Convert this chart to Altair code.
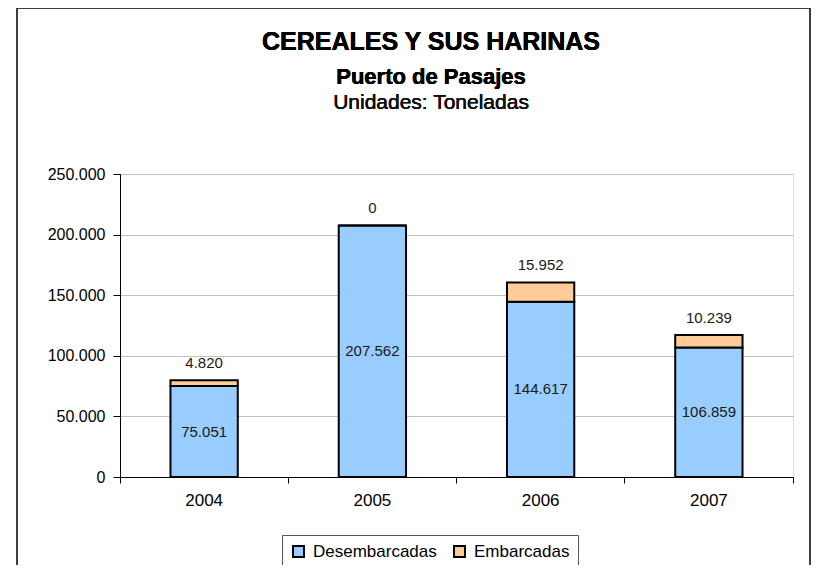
import altair as alt
import pandas as pd

years = ["2004", "2005", "2006", "2007"]
desembarcadas = [75051, 207562, 144617, 106859]
embarcadas = [4820, 0, 15952, 10239]
series = ["Desembarcadas", "Embarcadas"]
colors = ["#99CCFF", "#FFCC99"]

rows = []
for i, y in enumerate(years):
    rows.append({"year": y, "serie": series[0], "value": desembarcadas[i], "ord": 0})
    rows.append({"year": y, "serie": series[1], "value": embarcadas[i], "ord": 1})
df = pd.DataFrame(rows)

lab = pd.DataFrame({"year": years, "des": desembarcadas, "emb": embarcadas})

FONT = "Liberation Sans"
W, H = 673, 303

xenc = alt.X("year:N", title=None,
             scale=alt.Scale(paddingInner=0, paddingOuter=0),
             axis=alt.Axis(labelAngle=0, bandPosition=1, tickExtra=True, tickSize=6,
                           tickColor="black", domainColor="black", labelColor="black",
                           labelFont=FONT, labelFontSize=17, labelPadding=9, grid=False))

bars = alt.Chart(df).mark_bar(width={"band": 0.4}, stroke="black", strokeWidth=2).encode(
    x=xenc,
    y=alt.Y("sum(value):Q", title=None, stack="zero",
            scale=alt.Scale(domain=[0, 250000], nice=False),
            axis=alt.Axis(values=[0, 50000, 100000, 150000, 200000, 250000],
                          labelExpr="replace(format(datum.value, ','), ',', '.')",
                          tickSize=7, tickColor="black", domainColor="black",
                          labelColor="black", labelFont=FONT, labelFontSize=16,
                          labelPadding=8, gridColor="#c0c0c0", gridWidth=1)),
    color=alt.Color("serie:N", scale=alt.Scale(domain=series, range=colors),
                    legend=alt.Legend(title=None, orient="none", legendX=162, legendY=361,
                                      direction="horizontal", symbolType="square",
                                      symbolStrokeColor="black", symbolStrokeWidth=2,
                                      symbolSize=120, labelFont=FONT, labelFontSize=17,
                                      labelColor="black", strokeColor="#555555",
                                      padding=8, columnPadding=13, labelOffset=6)),
    order=alt.Order("ord:Q"),
)

inner = alt.Chart(lab).transform_calculate(
    mid="datum.des / 2",
    txt="replace(format(datum.des, ','), ',', '.')"
).mark_text(font=FONT, fontSize=15, color="#1a1a1a", baseline="middle").encode(
    x=alt.X("year:N"),
    y=alt.Y("mid:Q"),
    text="txt:N",
)

top = alt.Chart(lab).transform_calculate(
    tot="datum.des + datum.emb",
    txt="replace(format(datum.emb, ','), ',', '.')"
).mark_text(font=FONT, fontSize=15, color="#1a1a1a", baseline="bottom", dy=-9).encode(
    x=alt.X("year:N"),
    y=alt.Y("tot:Q"),
    text="txt:N",
)

frame = alt.Chart(lab).mark_rect(fill=None, stroke="#333333", strokeWidth=1).encode(
    x=alt.value(-103), x2=alt.value(690), y=alt.value(-166), y2=alt.value(430)
)

t1 = alt.Chart(lab).mark_text(text="CEREALES Y SUS HARINAS", font=FONT, fontSize=25,
                                fontWeight="bold", color="black", baseline="alphabetic").encode(
    x=alt.value(311), y=alt.value(50 - 174))
t2 = alt.Chart(lab).mark_text(text="Puerto de Pasajes", font=FONT, fontSize=22,
                                fontWeight="bold", color="black", baseline="alphabetic").encode(
    x=alt.value(311), y=alt.value(84 - 174))
t3 = alt.Chart(lab).mark_text(text="Unidades: Toneladas", font=FONT, fontSize=21,
                                fontWeight="normal", color="#111111", baseline="alphabetic").encode(
    x=alt.value(311), y=alt.value(109 - 174))

chart = alt.layer(frame, bars, inner, top, t1, t2, t3).properties(
    width=W, height=H,
    autosize=alt.AutoSizeParams(type="none"),
    padding={"left": 112, "top": 166, "right": 20, "bottom": 88},
).configure_view(stroke="#808080", strokeWidth=1).configure(background="white")

chart.save("out.html", embed_options={"renderer": "svg", "actions": False})
